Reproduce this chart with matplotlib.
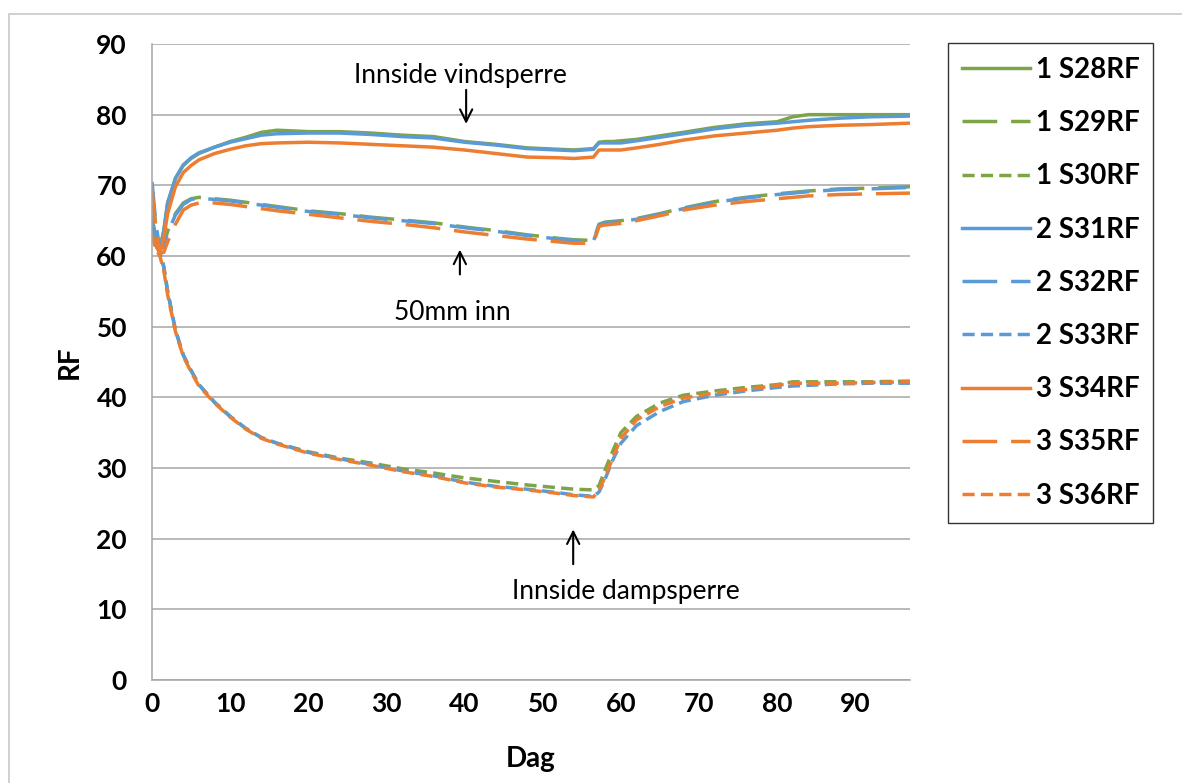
import matplotlib
matplotlib.use("Agg")
import matplotlib.pyplot as plt
from matplotlib.patches import Rectangle

plt.rcParams["font.family"] = ["Lato", "DejaVu Sans"]

# Målepunkter (døgn etter start)
dag = [0, 0.5, 1, 1.5, 2, 3, 4, 5, 6, 8, 10, 12, 14, 16, 20, 24, 28, 32, 36, 40,
       44, 48, 52, 54, 56.5, 57.2, 58, 59, 60, 62, 65, 68, 72, 76, 80, 82, 84, 88, 92, 97]

# Innside vindsperre
s28 = [65.5, 62.5, 61.0, 63.5, 67.5, 71.0, 72.8, 73.8, 74.5, 75.4, 76.2, 76.8, 77.5, 77.8, 77.6, 77.6, 77.4, 77.1, 76.9, 76.2,
       75.8, 75.3, 75.1, 75.0, 75.2, 76.1, 76.2, 76.2, 76.3, 76.5, 77.0, 77.5, 78.2, 78.7, 79.0, 79.7, 80.0, 80.0, 80.0, 80.0]
s31 = [65.0, 62.3, 61.0, 63.5, 67.5, 71.0, 72.9, 73.9, 74.6, 75.4, 76.1, 76.6, 77.1, 77.3, 77.4, 77.4, 77.2, 76.9, 76.7, 76.1,
       75.7, 75.2, 75.0, 74.9, 75.1, 76.0, 76.0, 76.0, 76.0, 76.3, 76.8, 77.3, 78.0, 78.5, 78.8, 79.0, 79.2, 79.5, 79.7, 79.8]
s34 = [63.0, 61.5, 60.5, 62.5, 66.0, 69.8, 71.8, 72.8, 73.6, 74.5, 75.1, 75.6, 75.9, 76.0, 76.1, 76.0, 75.8, 75.6, 75.4, 75.0,
       74.5, 74.0, 73.9, 73.8, 74.0, 75.0, 75.0, 75.0, 75.0, 75.3, 75.8, 76.4, 77.0, 77.4, 77.8, 78.1, 78.3, 78.5, 78.6, 78.8]

# 50 mm inn
s29 = [69.5, 64.0, 61.0, 61.5, 63.5, 66.0, 67.5, 68.1, 68.3, 68.1, 67.9, 67.6, 67.3, 67.0, 66.4, 66.0, 65.5, 65.1, 64.7, 64.1,
       63.6, 63.0, 62.5, 62.3, 62.2, 64.5, 64.8, 64.9, 65.0, 65.3, 66.0, 66.8, 67.7, 68.3, 68.8, 69.0, 69.2, 69.5, 69.6, 69.8]
s32 = [70.5, 64.5, 61.0, 61.3, 63.3, 65.8, 67.3, 68.0, 68.2, 68.0, 67.8, 67.5, 67.2, 66.9, 66.3, 65.9, 65.4, 65.0, 64.6, 64.0,
       63.5, 62.9, 62.4, 62.2, 62.1, 64.4, 64.7, 64.8, 64.9, 65.2, 65.9, 66.7, 67.6, 68.2, 68.7, 68.9, 69.1, 69.4, 69.5, 69.7]
s35 = [69.5, 63.5, 60.5, 60.5, 62.0, 64.5, 66.5, 67.2, 67.5, 67.5, 67.3, 67.0, 66.7, 66.4, 65.9, 65.4, 64.9, 64.5, 64.0, 63.4,
       62.9, 62.4, 62.0, 61.8, 61.8, 64.2, 64.4, 64.5, 64.6, 65.0, 65.7, 66.5, 67.2, 67.7, 68.1, 68.3, 68.5, 68.7, 68.8, 68.9]

# Innside dampsperre
s30 = [64.0, 61.5, 60.5, 58.5, 55.0, 49.5, 46.0, 43.8, 41.8, 39.3, 37.3, 35.6, 34.3, 33.5, 32.3, 31.4, 30.7, 29.9, 29.3, 28.6,
       28.1, 27.6, 27.2, 27.0, 26.9, 27.5, 29.8, 32.5, 35.0, 37.3, 39.2, 40.3, 40.9, 41.4, 41.8, 42.2, 42.2, 42.2, 42.2, 42.3]
s33 = [64.0, 61.5, 60.5, 58.5, 55.0, 49.5, 46.0, 43.8, 41.8, 39.3, 37.3, 35.6, 34.3, 33.5, 32.2, 31.3, 30.5, 29.6, 28.9, 28.0,
       27.4, 27.0, 26.5, 26.2, 26.0, 26.6, 28.5, 31.2, 33.5, 36.0, 38.0, 39.4, 40.3, 40.9, 41.4, 41.6, 41.7, 41.9, 42.0, 42.0]
s36 = [63.0, 61.0, 60.0, 58.0, 54.5, 49.3, 45.8, 43.6, 41.6, 39.2, 37.2, 35.5, 34.2, 33.4, 32.1, 31.2, 30.4, 29.5, 28.8, 27.9,
       27.3, 26.9, 26.4, 26.1, 25.9, 26.8, 28.8, 31.5, 34.2, 36.8, 38.7, 39.9, 40.6, 41.1, 41.7, 42.0, 42.0, 42.0, 42.1, 42.2]

navn = ["1 S28RF", "1 S29RF", "1 S30RF", "2 S31RF", "2 S32RF", "2 S33RF", "3 S34RF", "3 S35RF", "3 S36RF"]
serier = [s28, s29, s30, s31, s32, s33, s34, s35, s36]

gronn = "#7DA446"
bla = "#5B9BD5"
oransje = "#ED7D31"
farger = [gronn] * 3 + [bla] * 3 + [oransje] * 3
lang_strek = (0, (10, 4))
kort_strek = (0, (3.5, 1.8))
stiler = ["-", lang_strek, kort_strek] * 3

fig = plt.figure(figsize=(11.82, 7.83), dpi=100)
ax = fig.add_axes([152 / 1182, 1 - 680 / 783, 758 / 1182, 636 / 783])

# tynn grå ramme rundt diagramområdet
fig.patches.append(Rectangle((9 / 1182, -0.1), 1.2, 1.1 - 14 / 783,
                             transform=fig.transFigure, fill=False,
                             edgecolor="#C8C8C8", lw=1.2))

for y, lbl, c, ls in zip(serier, navn, farger, stiler):
    ax.plot(dag, y, color=c, linestyle=ls, lw=2.5, label=lbl)

ax.set_xlim(0, 97)
ax.set_ylim(0, 90)
ax.set_xticks(range(0, 91, 10))
ax.set_yticks(range(0, 91, 10))
ax.yaxis.grid(True, color="#A6A6A6", lw=1.1)
ax.set_axisbelow(True)
for side in ["top", "right"]:
    ax.spines[side].set_visible(False)
for side in ["left", "bottom"]:
    ax.spines[side].set_color("#A6A6A6")
    ax.spines[side].set_linewidth(1.1)
ax.tick_params(length=0, labelsize=19)
ax.tick_params(axis="y", pad=18)
ax.tick_params(axis="x", pad=9)
for t in ax.get_xticklabels() + ax.get_yticklabels():
    t.set_fontweight("bold")

ax.set_xlabel("Dag", fontsize=20, fontweight="bold", labelpad=21)
ax.set_ylabel("RF", fontsize=20, fontweight="bold", labelpad=10)

pil = dict(arrowstyle="->", color="black", lw=1.5, mutation_scale=22)
ax.annotate("", xy=(40.2, 78.3), xytext=(40.2, 83.9), arrowprops=pil)
ax.text(39.5, 85.6, "Innside vindsperre", fontsize=19, ha="center", va="center")
ax.annotate("", xy=(39.4, 61.3), xytext=(39.4, 57.0), arrowprops=pil)
ax.text(38.4, 52.0, "50mm inn", fontsize=19, ha="center", va="center")
ax.annotate("", xy=(53.9, 21.7), xytext=(53.9, 16.0), arrowprops=pil)
ax.text(60.7, 12.5, "Innside dampsperre", fontsize=19, ha="center", va="center")

leg = fig.legend(loc="upper left", bbox_to_anchor=(948 / 1182, 1 - 43 / 783),
                 fontsize=20, frameon=True, fancybox=False, edgecolor="black",
                 handlelength=2.45, handletextpad=0.2, labelspacing=0.98,
                 borderpad=0.5, borderaxespad=0)
leg.get_frame().set_linewidth(1.0)
for t in leg.get_texts():
    t.set_fontweight("bold")

fig.savefig("out.png", dpi=100)
